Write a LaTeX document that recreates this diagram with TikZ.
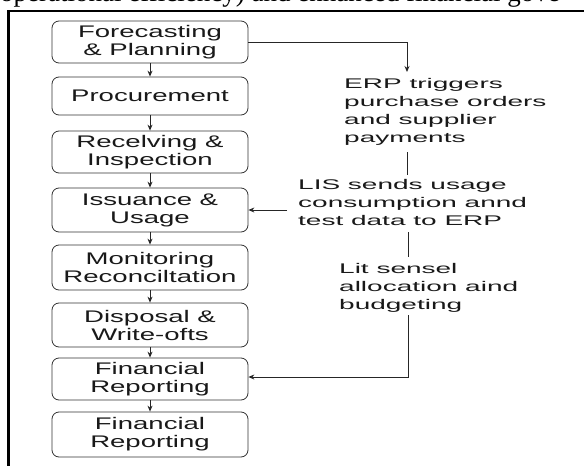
\documentclass[tikz,border=0pt]{standalone}
\usepackage{fontspec}
\setmainfont{Liberation Sans}
\newfontfamily\boxfont[FakeStretch=1.64]{Liberation Sans}
\newfontfamily\notefont[FakeStretch=2.0]{Liberation Sans}
\newfontfamily\seriffont{Liberation Serif}
\usetikzlibrary{arrows.meta}
\begin{document}
\begin{tikzpicture}[x=1pt,y=-1pt,
  stepbox/.style={draw=black!80, rounded corners=7pt, minimum width=196pt, minimum height=42pt,
    align=center, inner sep=0pt, line width=0.8pt, text=black!90,
    font=\boxfont\fontsize{16.8}{18}\selectfont},
  note/.style={align=left, inner sep=0pt, anchor=north west, text=black!90,
    font=\notefont\fontsize{14}{18}\selectfont},
  flow/.style={-{Stealth[length=6pt,width=5pt]}, line width=0.9pt, draw=black!85},
  link/.style={line width=0.9pt, draw=black!85}]
\useasboundingbox (0,0) rectangle (584,466);
\fill[white] (0,0) rectangle (584,466);
% clipped caption text at the top
\node[anchor=base west, inner sep=0pt, font=\seriffont\fontsize{27}{30}\selectfont] (cap) at (0,1) {operational efficiency) and enhanced financial gove};
% frame
\draw[line width=2.2pt] (590,11.3) -- (8.5,11.3) -- (8.5,470);
% boxes
\node[stepbox] (b1) at (150,42) {Forecasting\\\& Planning};
\node[stepbox, minimum height=38pt] (b2) at (150,96) {Procurement};
\node[stepbox] (b3) at (150,152) {Recelving \&\\Inspection};
\node[stepbox, minimum height=44pt] (b4) at (150,210) {Issuance \&\\Usage};
\node[stepbox, minimum height=45pt] (b5) at (150,267.5) {Monitoring\\Reconciltation};
\node[stepbox, minimum height=44pt] (b6) at (150,325) {Disposal \&\\Write-ofts};
\node[stepbox] (b7) at (150,379) {Financial\\Reporting};
\node[stepbox, minimum height=45pt] (b8) at (150,434.5) {Financial\\Reporting};
\foreach \a/\b in {b1/b2,b2/b3,b3/b4,b4/b5,b5/b6,b6/b7,b7/b8}
  \draw[flow] (\a.south) -- (\b.north);
% notes
\node[note] (erp) at (344,78) {ERP triggers\\purchase orders\\and supplier\\payments};
\node[note] (lis) at (298,179) {LIS sends usage\\consumption annd\\test data to ERP};
\node[note] (lit) at (339,263) {Lit sensel\\allocation aind\\budgeting};
% connectors
\coordinate (c1) at (407,72);
\coordinate (c2) at (407,152);
\coordinate (c3) at (407,175);
\coordinate (c4) at (287,210);
\coordinate (c5) at (408,232);
\coordinate (c6) at (408,257);
\coordinate (c7) at (408,315);
\coordinate (c8) at (408,377);
\draw[flow] (b1.east) -| (c1);
\draw[link] (c2) -- (c3);
\draw[flow] (c4) -- (c4 -| b4.east);
\draw[link] (c5) -- (c6);
\draw[flow] (c7) -- (c8) -- (c8 -| b7.east);
\end{tikzpicture}
\end{document}
